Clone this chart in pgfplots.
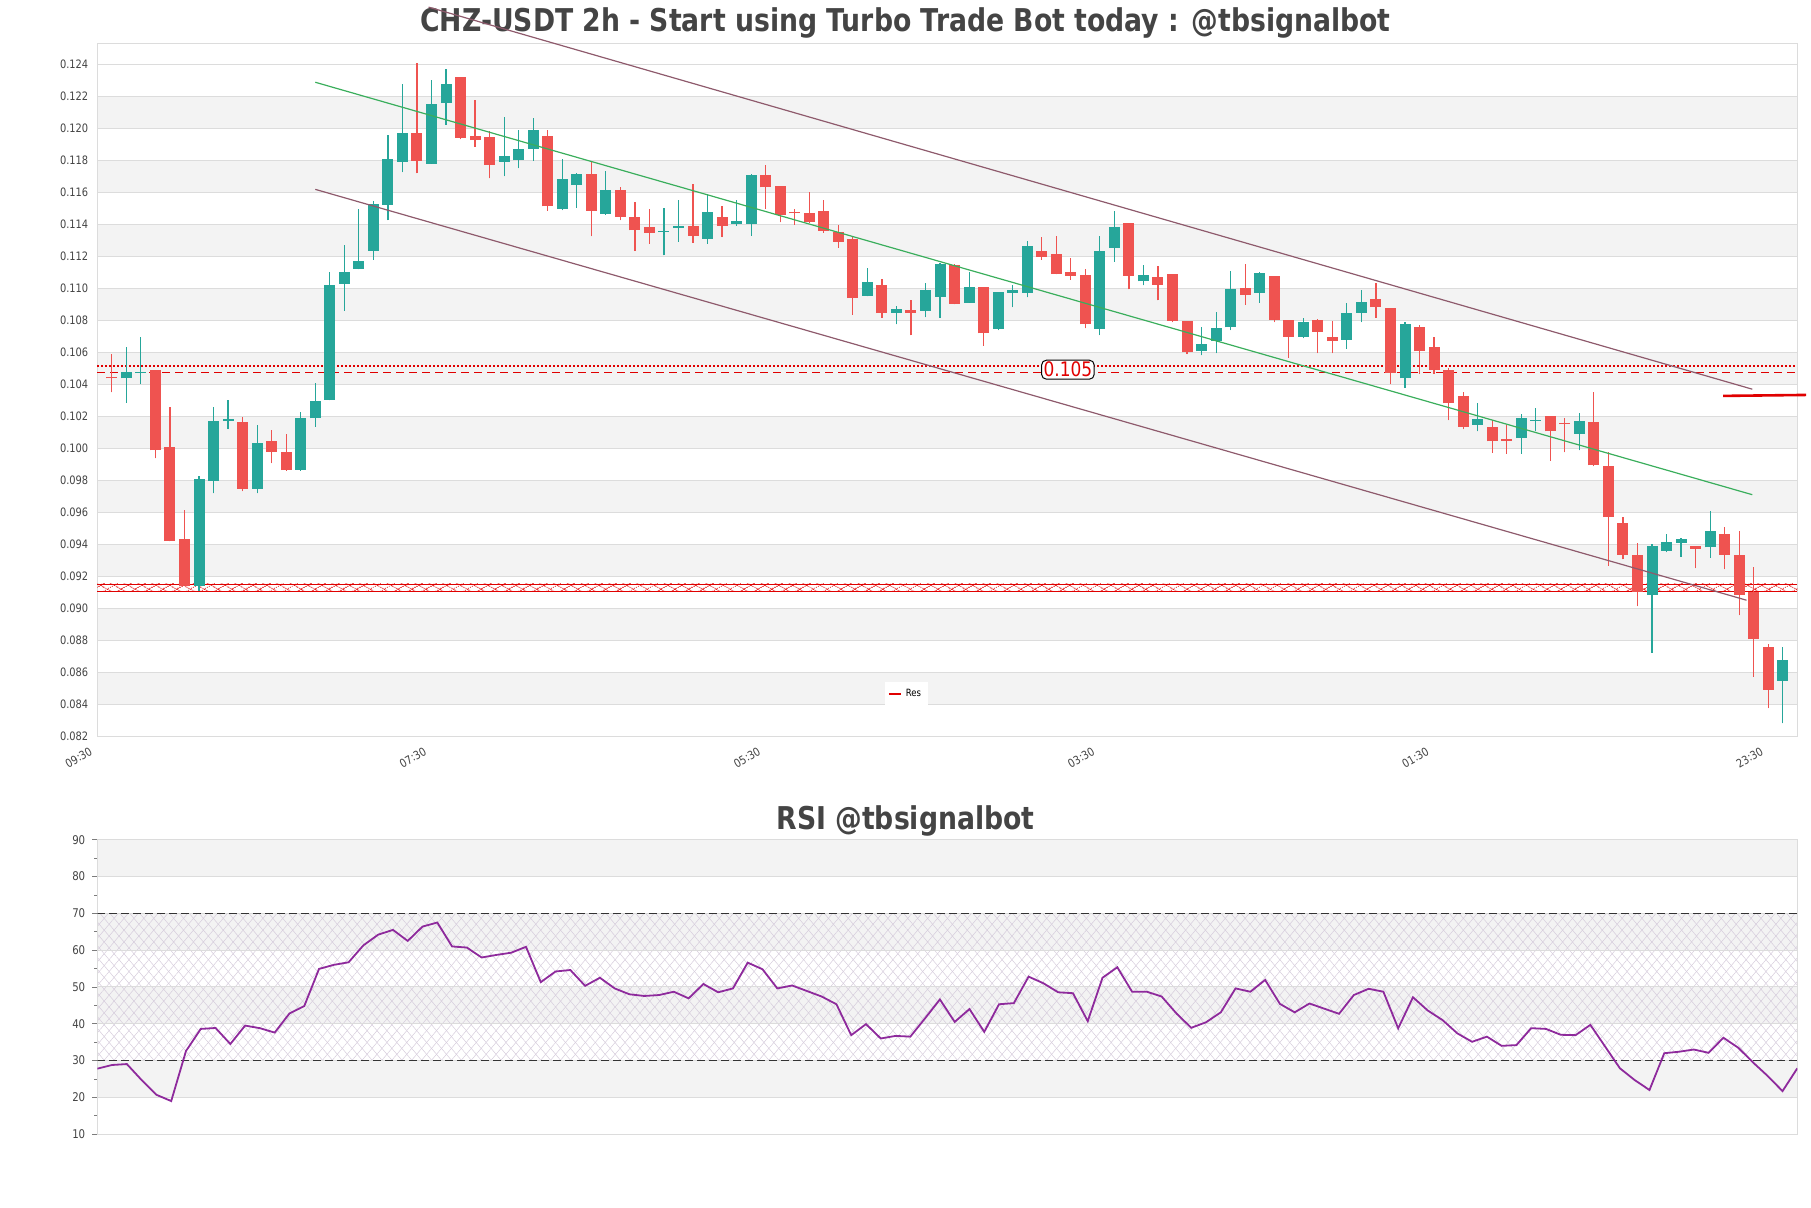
\documentclass[border=0pt]{standalone}
\usepackage{fontspec}
\setmainfont{DejaVu Sans}[FakeStretch=0.85]
\usepackage{pgfplots}
\pgfplotsset{compat=1.18}
\usepackage{pgfplotstable}
\usetikzlibrary{patterns,patterns.meta}

\definecolor{cgreen}{HTML}{26A69A}
\definecolor{cred}{HTML}{EF5350}
\definecolor{chan}{HTML}{8E5A6C}
\definecolor{mline}{HTML}{3AAE5C}
\definecolor{gridc}{HTML}{DCDCDC}
\definecolor{band}{HTML}{F3F3F3}
\definecolor{txt}{HTML}{444444}
\definecolor{rsic}{HTML}{8E2A9C}
\definecolor{lvl}{HTML}{E00000}
\definecolor{hatch}{HTML}{D6CCDC}

\pgfplotstableread{
n o h l c
2 0.10437 0.10634 0.10284 0.10479
3 0.10470 0.10699 0.10403 0.10479
7 0.09140 0.09829 0.09109 0.09810
8 0.09796 0.10256 0.09719 0.10174
9 0.10170 0.10304 0.10120 0.10185
11 0.09748 0.10149 0.09719 0.10036
14 0.09866 0.10228 0.09860 0.10191
15 0.10188 0.10411 0.10134 0.10298
16 0.10304 0.11103 0.10300 0.11024
17 0.11030 0.11270 0.10860 0.11101
18 0.11123 0.11496 0.11120 0.11174
19 0.11236 0.11547 0.11180 0.11527
20 0.11524 0.11962 0.11428 0.11810
21 0.11793 0.12276 0.11728 0.11971
23 0.11781 0.12301 0.11780 0.12157
24 0.12160 0.12375 0.12024 0.12281
28 0.11793 0.12075 0.11702 0.11829
29 0.11801 0.11993 0.11753 0.11872
30 0.11872 0.12064 0.11798 0.11990
32 0.11499 0.11807 0.11490 0.11683
33 0.11646 0.11720 0.11505 0.11719
35 0.11468 0.11736 0.11460 0.11618
39 0.11352 0.11505 0.11208 0.11355
40 0.11377 0.11555 0.11293 0.11392
42 0.11312 0.11589 0.11279 0.11476
44 0.11406 0.11555 0.11392 0.11425
45 0.11406 0.11714 0.11329 0.11708
53 0.10954 0.11129 0.10950 0.11038
55 0.10848 0.10889 0.10776 0.10869
57 0.10860 0.11033 0.10821 0.10988
58 0.10948 0.11160 0.10818 0.11151
60 0.10911 0.11103 0.10910 0.11010
62 0.10748 0.10980 0.10740 0.10976
63 0.10973 0.11019 0.10883 0.10990
64 0.10973 0.11298 0.10945 0.11264
69 0.10748 0.11327 0.10708 0.11233
70 0.11256 0.11482 0.11166 0.11383
72 0.11044 0.11146 0.11020 0.11086
76 0.10606 0.10762 0.10581 0.10651
77 0.10671 0.10855 0.10595 0.10750
78 0.10756 0.11109 0.10740 0.10996
80 0.10973 0.11100 0.10910 0.11095
83 0.10699 0.10818 0.10690 0.10790
86 0.10680 0.10911 0.10623 0.10849
87 0.10849 0.10988 0.10790 0.10917
90 0.10437 0.10790 0.10380 0.10779
95 0.10149 0.10284 0.10106 0.10182
98 0.10064 0.10214 0.09965 0.10191
99 0.10174 0.10253 0.10106 0.10180
102 0.10092 0.10219 0.09988 0.10171
107 0.09081 0.09400 0.08722 0.09392
108 0.09358 0.09465 0.09350 0.09414
109 0.09409 0.09440 0.09321 0.09434
111 0.09380 0.09606 0.09315 0.09485
116 0.08547 0.08756 0.08279 0.08674
}\greens

\pgfplotstableread{
n o h l c
1 0.10445 0.10590 0.10350 0.10437
4 0.10490 0.10490 0.09937 0.09988
5 0.10010 0.10256 0.09420 0.09420
6 0.09431 0.09612 0.09140 0.09140
10 0.10163 0.10197 0.09733 0.09748
12 0.10047 0.10112 0.09908 0.09976
13 0.09974 0.10092 0.09860 0.09863
22 0.11971 0.12408 0.11722 0.11798
25 0.12324 0.12324 0.11934 0.11942
26 0.11956 0.12182 0.11886 0.11928
27 0.11945 0.11985 0.11688 0.11773
31 0.11956 0.11993 0.11485 0.11513
34 0.11719 0.11793 0.11327 0.11485
36 0.11618 0.11637 0.11428 0.11448
37 0.11448 0.11538 0.11236 0.11363
38 0.11383 0.11499 0.11279 0.11349
41 0.11392 0.11651 0.11287 0.11329
43 0.11448 0.11519 0.11321 0.11392
46 0.11708 0.11773 0.11499 0.11632
47 0.11640 0.11640 0.11414 0.11462
48 0.11480 0.11499 0.11400 0.11470
49 0.11471 0.11603 0.11410 0.11414
50 0.11482 0.11555 0.11349 0.11360
51 0.11355 0.11397 0.11256 0.11293
52 0.11312 0.11329 0.10835 0.10940
54 0.11024 0.11058 0.10818 0.10846
56 0.10863 0.10931 0.10708 0.10849
59 0.11146 0.11151 0.10900 0.10903
61 0.11010 0.11010 0.10643 0.10719
65 0.11236 0.11321 0.11180 0.11199
66 0.11214 0.11329 0.11090 0.11089
67 0.11103 0.11188 0.11053 0.11081
68 0.11086 0.11123 0.10750 0.10776
71 0.11411 0.11411 0.10996 0.11081
73 0.11072 0.11140 0.10925 0.11024
74 0.11089 0.11089 0.10790 0.10798
75 0.10798 0.10798 0.10590 0.10601
79 0.11005 0.11151 0.10897 0.10962
81 0.11081 0.11081 0.10790 0.10804
82 0.10804 0.10804 0.10567 0.10699
84 0.10804 0.10810 0.10595 0.10728
85 0.10699 0.10798 0.10595 0.10671
88 0.10934 0.11033 0.10818 0.10883
89 0.10877 0.10880 0.10403 0.10473
91 0.10762 0.10770 0.10465 0.10606
92 0.10634 0.10699 0.10465 0.10493
93 0.10493 0.10500 0.10177 0.10281
94 0.10327 0.10355 0.10120 0.10134
96 0.10134 0.10177 0.09971 0.10044
97 0.10058 0.10143 0.09965 0.10047
100 0.10205 0.10205 0.09923 0.10106
101 0.10160 0.10191 0.09974 0.10152
103 0.10163 0.10355 0.09889 0.09894
104 0.09889 0.09974 0.09267 0.09570
105 0.09533 0.09570 0.09307 0.09335
106 0.09335 0.09406 0.09013 0.09103
110 0.09392 0.09392 0.09250 0.09372
112 0.09465 0.09505 0.09245 0.09335
113 0.09335 0.09485 0.08956 0.09081
114 0.09103 0.09259 0.08572 0.08807
115 0.08759 0.08779 0.08375 0.08490
}\reds

\pgfplotstableread{
k r
0 27.8
1 28.8
2 29.05
3 24.7
4 20.7
5 19.0
6 32.6
7 38.6
8 38.85
9 34.5
10 39.5
11 38.8
12 37.6
13 42.8
14 44.8
15 54.9
16 56.0
17 56.7
18 61.3
19 64.2
20 65.5
21 62.5
22 66.4
23 67.5
24 61.0
25 60.7
26 58.0
27 58.7
28 59.3
29 60.9
30 51.3
31 54.2
32 54.6
33 50.3
34 52.5
35 49.6
36 48.0
37 47.55
38 47.8
39 48.7
40 46.9
41 50.8
42 48.55
43 49.6
44 56.6
45 54.8
46 49.6
47 50.4
48 48.9
49 47.4
50 45.3
51 36.9
52 39.9
53 36.0
54 36.7
55 36.5
56 41.5
57 46.6
58 40.5
59 44.0
60 37.8
61 45.3
62 45.6
63 52.8
64 51.0
65 48.55
66 48.3
67 40.7
68 52.5
69 55.35
70 48.7
71 48.7
72 47.4
73 42.8
74 38.9
75 40.4
76 43.1
77 49.6
78 48.7
79 51.9
80 45.4
81 43.1
82 45.5
83 44.1
84 42.7
85 47.8
86 49.5
87 48.7
88 38.75
89 47.2
90 43.6
91 41.0
92 37.4
93 35.1
94 36.5
95 34.0
96 34.2
97 38.8
98 38.6
99 37.0
100 36.9
101 39.7
102 33.8
103 27.9
104 24.7
105 22.0
106 32.0
107 32.4
108 33.0
109 32.1
110 36.2
111 33.5
112 29.5
113 25.8
114 21.7
115 27.9
}\rsidata

\pgfplotsset{
  candle/.style 2 args={only marks, mark size=0pt, mark options={draw=none, fill=none}, forget plot,
    error bars/.cd, y dir=plus, y explicit, error mark=none,
    error bar style={line width=#2, color=#1}},
}

\begin{document}
\begin{tikzpicture}
\node[font=\fontsize{15.7}{18}\selectfont\bfseries, text=txt] at (452.75pt,592.5pt) {CHZ-USDT 2h - Start using Turbo Trade Bot today : @tbsignalbot};
\node[font=\fontsize{15.7}{18}\selectfont\bfseries, text=txt] at (452.75pt,193.5pt) {RSI @tbsignalbot};

\begin{axis}[
  at={(48.65pt,235.55pt)}, anchor=south west,
  width=850pt, height=346.5pt, scale only axis,
  xmin=0, xmax=117, ymin=0.08195, ymax=0.1253,
  clip=false, set layers=standard,
  axis line style={gridc},
  ytick={0.082,0.084,0.086,0.088,0.090,0.092,0.094,0.096,0.098,0.100,0.102,0.104,0.106,0.108,0.110,0.112,0.114,0.116,0.118,0.120,0.122,0.124},
  scaled y ticks=false,
  ymajorgrids, grid style={gridc, line width=0.5pt},
  major tick length=0pt,
  /pgf/number format/assume math mode=true,
  yticklabel style={font=\fontsize{5.8}{7}\selectfont, text=txt, xshift=-1pt, /pgf/number format/fixed, /pgf/number format/fixed zerofill, /pgf/number format/precision=3},
  xtick={0,23,46,69,92,115},
  xticklabels={09:30,07:30,05:30,03:30,01:30,23:30},
  xticklabel style={font=\fontsize{5.8}{7}\selectfont, text=txt, xshift=-3pt, rotate=30, anchor=north east},
  legend style={at={(0.476,0.062)}, anchor=center, draw=none, fill=white, font=\fontsize{5}{6}\selectfont, inner sep=1.5pt},
  legend image code/.code={\draw[#1] (0pt,0pt) -- (6pt,0pt);},
]
% background bands
\addplot[on layer=axis background, fill=band, draw=none, forget plot] coordinates {(0,0.084) (117,0.084) (117,0.086) (0,0.086)} --cycle;
\addplot[on layer=axis background, fill=band, draw=none, forget plot] coordinates {(0,0.088) (117,0.088) (117,0.090) (0,0.090)} --cycle;
\addplot[on layer=axis background, fill=band, draw=none, forget plot] coordinates {(0,0.092) (117,0.092) (117,0.094) (0,0.094)} --cycle;
\addplot[on layer=axis background, fill=band, draw=none, forget plot] coordinates {(0,0.096) (117,0.096) (117,0.098) (0,0.098)} --cycle;
\addplot[on layer=axis background, fill=band, draw=none, forget plot] coordinates {(0,0.100) (117,0.100) (117,0.102) (0,0.102)} --cycle;
\addplot[on layer=axis background, fill=band, draw=none, forget plot] coordinates {(0,0.104) (117,0.104) (117,0.106) (0,0.106)} --cycle;
\addplot[on layer=axis background, fill=band, draw=none, forget plot] coordinates {(0,0.108) (117,0.108) (117,0.110) (0,0.110)} --cycle;
\addplot[on layer=axis background, fill=band, draw=none, forget plot] coordinates {(0,0.112) (117,0.112) (117,0.114) (0,0.114)} --cycle;
\addplot[on layer=axis background, fill=band, draw=none, forget plot] coordinates {(0,0.116) (117,0.116) (117,0.118) (0,0.118)} --cycle;
\addplot[on layer=axis background, fill=band, draw=none, forget plot] coordinates {(0,0.120) (117,0.120) (117,0.122) (0,0.122)} --cycle;

% support band
\addplot[draw=none, pattern={Lines[angle=30,distance=3.35pt,line width=0.3pt]}, pattern color=lvl, forget plot] coordinates {(0,0.09104) (117,0.09104) (117,0.09152) (0,0.09152)} --cycle;
\addplot[draw=none, pattern={Lines[angle=-30,distance=3.35pt,line width=0.3pt]}, pattern color=lvl, forget plot] coordinates {(0,0.09104) (117,0.09104) (117,0.09152) (0,0.09152)} --cycle;
\addplot[lvl, line width=0.25pt, forget plot] coordinates {(0,0.09152) (117,0.09152)};
\addplot[lvl, line width=0.25pt, forget plot] coordinates {(0,0.09104) (117,0.09104)};
% resistance levels
\addplot[lvl, densely dotted, line width=1pt, forget plot] coordinates {(0,0.10512) (117,0.10512)};
\addplot[lvl, dash pattern=on 4pt off 2.5pt, line width=0.6pt, forget plot] coordinates {(0,0.10474) (117,0.10474)};

% candles: wicks
\addplot[candle={cgreen}{0.6pt}] table[x=n, y=l, y error expr=\thisrow{h}-\thisrow{l}] {\greens};
\addplot[candle={cred}{0.6pt}] table[x=n, y=l, y error expr=\thisrow{h}-\thisrow{l}] {\reds};
% bodies
\addplot[candle={cgreen}{5.5pt}] table[x=n, y expr={min(\thisrow{o},\thisrow{c})}, y error expr={max(abs(\thisrow{c}-\thisrow{o}),0.00006)}] {\greens};
\addplot[candle={cred}{5.5pt}] table[x=n, y expr={min(\thisrow{o},\thisrow{c})}, y error expr={max(abs(\thisrow{c}-\thisrow{o}),0.00006)}] {\reds};

% channel
\addplot[chan, line width=0.6pt, forget plot] coordinates {(22.8,0.1276) (113.9,0.1037)};
\addplot[chan, line width=0.6pt, forget plot] coordinates {(15.0,0.1162) (113.5,0.0905)};
\addplot[mline, line width=0.6pt, forget plot] coordinates {(15.0,0.1229) (113.9,0.0971)};
\addplot[lvl, line width=1.3pt, forget plot] coordinates {(111.9,0.10328) (117.6,0.10334)};

\node[draw=black, fill=white, rounded corners=2.5pt, text=lvl, inner sep=1pt, line width=0.5pt, font=\fontsize{10}{11}\selectfont] at (axis cs:66.8,0.10492) {0.105};

\addlegendimage{lvl, line width=1pt}
\addlegendentry{Res}
\end{axis}

\begin{axis}[
  at={(48.65pt,36.9pt)}, anchor=south west,
  width=850pt, height=147.25pt, scale only axis,
  xmin=0, xmax=115, ymin=10, ymax=90,
  set layers=standard,
  axis line style={gridc},
  xtick=\empty,
  ytick={10,20,30,40,50,60,70,80,90},
  ytick pos=left,
  minor y tick num=1,
  ymajorgrids, grid style={gridc, line width=0.5pt},
  tick align=outside, major tick length=2.5pt, minor tick length=1.5pt,
  tick style={txt!70, line width=0.4pt},
  /pgf/number format/assume math mode=true,
  yticklabel style={font=\fontsize{6}{7}\selectfont, text=txt},
]
\addplot[on layer=axis background, fill=band, draw=none] coordinates {(0,20) (115,20) (115,30) (0,30)} --cycle;
\addplot[on layer=axis background, fill=band, draw=none] coordinates {(0,40) (115,40) (115,50) (0,50)} --cycle;
\addplot[on layer=axis background, fill=band, draw=none] coordinates {(0,60) (115,60) (115,70) (0,70)} --cycle;
\addplot[on layer=axis background, fill=band, draw=none] coordinates {(0,80) (115,80) (115,90) (0,90)} --cycle;
\addplot[on layer=axis background, draw=none, pattern={Lines[angle=50,distance=3.8pt,line width=0.25pt]}, pattern color=hatch] coordinates {(0,30) (115,30) (115,70) (0,70)} --cycle;
\addplot[on layer=axis background, draw=none, pattern={Lines[angle=130,distance=3.8pt,line width=0.25pt]}, pattern color=hatch] coordinates {(0,30) (115,30) (115,70) (0,70)} --cycle;
\addplot[black!80, dash pattern=on 4pt off 2pt, line width=0.7pt] coordinates {(0,70) (115,70)};
\addplot[black!80, dash pattern=on 4pt off 2pt, line width=0.7pt] coordinates {(0,30) (115,30)};
\addplot[rsic, line width=0.9pt] table[x=k, y=r] {\rsidata};
\end{axis}
\pgfresetboundingbox
\useasboundingbox (0,0) rectangle (905.5pt,604pt);
\end{tikzpicture}
\end{document}
